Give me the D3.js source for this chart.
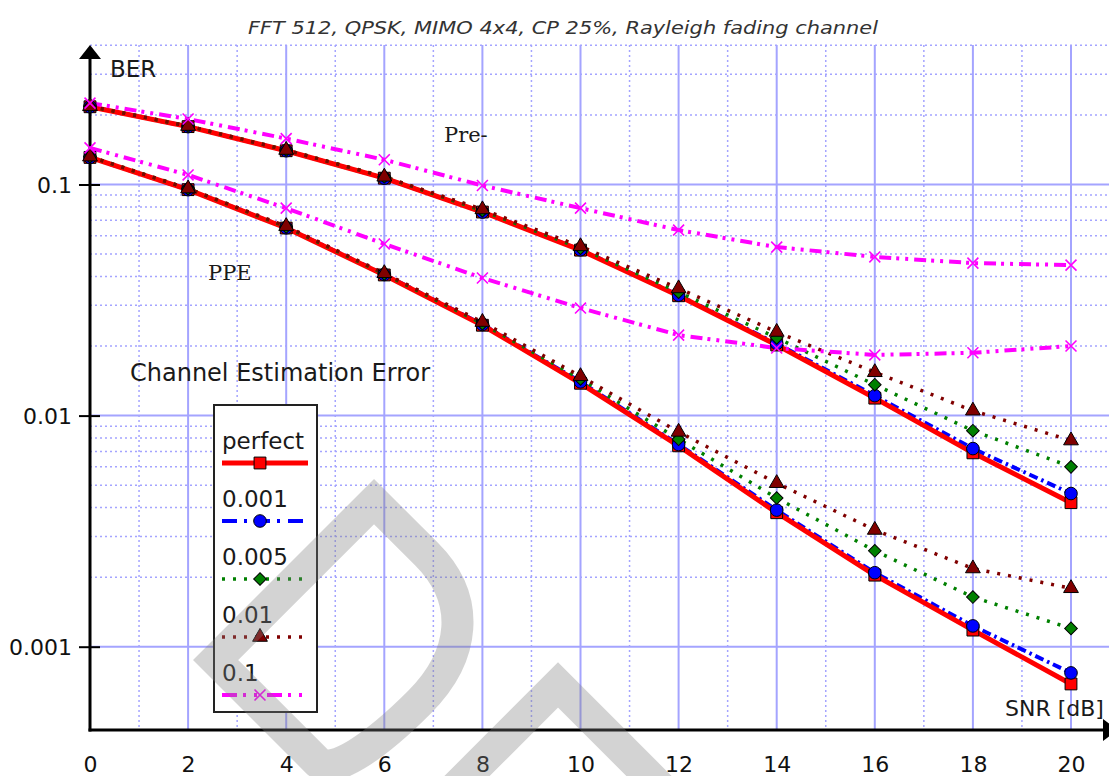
<!DOCTYPE html>
<html>
<head>
<meta charset="utf-8">
<script src="https://cdn.jsdelivr.net/npm/d3@7/dist/d3.min.js"></script>
<style>
  html, body { margin: 0; padding: 0; background: #fff; }
  svg { display: block; }
</style>
</head>
<body>
<svg id="chart" width="1109" height="776"></svg>
<script>
// SNR axis (dB), points every 2 dB
const snr = [0, 2, 4, 6, 8, 10, 12, 14, 16, 18, 20];

// Upper family of curves ("Pre-")
const prePerfect = [0.217, 0.178, 0.140, 0.1065, 0.076, 0.052, 0.0330, 0.0202, 0.0119, 0.0069, 0.0042];
const pre0001    = [0.217, 0.178, 0.140, 0.1065, 0.076, 0.0522, 0.0332, 0.0205, 0.0122, 0.0072, 0.0046];
const pre0005    = [0.218, 0.179, 0.141, 0.108, 0.077, 0.053, 0.0342, 0.0217, 0.0136, 0.0086, 0.0060];
const pre001     = [0.218, 0.179, 0.141, 0.108, 0.078, 0.054, 0.0355, 0.0230, 0.0154, 0.0105, 0.0078];
const pre01      = [0.225, 0.192, 0.158, 0.128, 0.099, 0.079, 0.0635, 0.0536, 0.0486, 0.0457, 0.0448];

// Lower family of curves ("PPE")
const ppePerfect = [0.131, 0.095, 0.0648, 0.0406, 0.0246, 0.0138, 0.0074, 0.0038, 0.00204, 0.00118, 0.00069];
const ppe0001    = [0.131, 0.095, 0.0650, 0.0408, 0.0248, 0.0140, 0.0075, 0.0039, 0.00209, 0.00123, 0.00077];
const ppe0005    = [0.132, 0.096, 0.0655, 0.0410, 0.0250, 0.0144, 0.0079, 0.0044, 0.0026, 0.00164, 0.00120];
const ppe001     = [0.132, 0.096, 0.0660, 0.0413, 0.0254, 0.0148, 0.0085, 0.0051, 0.0032, 0.00218, 0.00179];
const ppe01      = [0.144, 0.110, 0.0790, 0.0553, 0.0394, 0.0292, 0.0223, 0.0196, 0.0183, 0.0187, 0.0200];

// Legend names, axis ticks
const seriesNames = ["perfect", "0.001", "0.005", "0.01", "0.1"];
const xTicks = [0, 2, 4, 6, 8, 10, 12, 14, 16, 18, 20];
const yTicks = [0.1, 0.01, 0.001];
const yTickLabels = ["0.1", "0.01", "0.001"];

const titleText = "FFT 512, QPSK, MIMO 4x4, CP 25%, Rayleigh fading channel";

// ---------------------------------------------------------------
const W = 1109, H = 776;
const plotLeft = 90, plotTop = 45, plotBottom = 730;

const svg = d3.select("#chart");
const x = d3.scaleLinear().domain([0, 20]).range([90, 1071]);
const y = d3.scaleLog().domain([0.1, 0.001]).range([184.5, 646.7]);

const gridColor = "#a4a4ff";

// Line / marker styles per error level (rot: marker rotation in degrees)
const styles = [
  { color: "#ff0000", width: 5,   dash: null,            legendDash: null,            sym: d3.symbolSquare,   size: 140, rot: 0,  fill: "#ff0000", stroke: "#000" },
  { color: "#0000ff", width: 4,   dash: "9,4,2.5,4",     legendDash: "15,7,3,8",      sym: d3.symbolCircle,   size: 125, rot: 0,  fill: "#0000ff", stroke: "#000" },
  { color: "#008000", width: 3.5, dash: "3,8",           legendDash: "3,8",           sym: d3.symbolSquare,   size: 80,  rot: 45, fill: "#008000", stroke: "#000" },
  { color: "#800000", width: 3.5, dash: "3,8",           legendDash: "3,8",           sym: d3.symbolTriangle, size: 95,  rot: 0,  fill: "#800000", stroke: "#000" },
  { color: "#ff00ff", width: 4,   dash: "12,5,3,6,3,6",  legendDash: "15,6,3,8,3,10", sym: d3.symbolX,        size: 80,  rot: 0,  fill: "none",    stroke: "#ff00ff" }
];

const preSeries = [prePerfect, pre0001, pre0005, pre001, pre01];
const ppeSeries = [ppePerfect, ppe0001, ppe0005, ppe001, ppe01];

// ---------------- grid ----------------
const grid = svg.append("g");
const vLines = d3.range(1, 22).filter(v => x(v) <= W);
grid.selectAll("line.v").data(vLines).join("line")
  .attr("x1", d => x(d)).attr("x2", d => x(d))
  .attr("y1", plotTop).attr("y2", plotBottom)
  .attr("stroke", gridColor)
  .attr("stroke-width", d => d % 2 === 0 ? 2 : 1.5)
  .attr("stroke-dasharray", d => d % 2 === 0 ? null : "2,3");

const minorH = [];
[-3, -2, -1].forEach(e => {
  for (let k = 2; k <= 9; k++) {
    const v = k * Math.pow(10, e);
    if (y(v) >= plotTop - 1) minorH.push(v);
  }
});
grid.selectAll("line.hm").data(minorH).join("line")
  .attr("x1", plotLeft).attr("x2", W)
  .attr("y1", d => y(d)).attr("y2", d => y(d))
  .attr("stroke", gridColor).attr("stroke-width", 1.5)
  .attr("stroke-dasharray", "2,3");
grid.selectAll("line.hM").data(yTicks).join("line")
  .attr("x1", plotLeft).attr("x2", W)
  .attr("y1", d => y(d)).attr("y2", d => y(d))
  .attr("stroke", gridColor).attr("stroke-width", 2);

// ---------------- axes ----------------
const yAxis = d3.axisLeft(y).tickValues(yTicks)
  .tickFormat((d, i) => yTickLabels[i]).tickSize(11).tickPadding(6);
const gy = svg.append("g").attr("transform", `translate(${plotLeft},0)`).call(yAxis);
gy.select(".domain").remove();
gy.selectAll(".tick line").attr("x1", 10).attr("stroke", "#000").attr("stroke-width", 2);
gy.selectAll(".tick text").attr("font-family", "DejaVu Sans").attr("font-size", 22)
  .attr("fill", "#111").attr("x", -18).attr("dy", "0.36em");

const xAxis = d3.axisBottom(x).tickValues(xTicks).tickSize(0).tickPadding(0);
const gx = svg.append("g").attr("transform", `translate(0,${plotBottom})`).call(xAxis);
gx.select(".domain").remove();
gx.selectAll(".tick text").attr("font-family", "DejaVu Sans").attr("font-size", 22)
  .attr("fill", "#111").attr("y", 42).attr("dy", 0);

// axis lines with arrowheads
svg.append("line").attr("x1", plotLeft).attr("x2", plotLeft).attr("y1", plotBottom + 1.5).attr("y2", plotTop + 8)
  .attr("stroke", "#000").attr("stroke-width", 3);
svg.append("path").attr("d", `M${plotLeft},${plotTop} L${plotLeft - 11},${plotTop + 14} L${plotLeft + 11},${plotTop + 14} Z`)
  .attr("fill", "#000");
svg.append("line").attr("x1", plotLeft - 1.5).attr("x2", W).attr("y1", plotBottom).attr("y2", plotBottom)
  .attr("stroke", "#000").attr("stroke-width", 3);
svg.append("path").attr("d", `M${W + 9},${plotBottom} L${W - 6},${plotBottom - 11} L${W - 6},${plotBottom + 11} Z`)
  .attr("fill", "#000");

// ---------------- series ----------------
const line = d3.line().x(d => x(d[0])).y(d => y(d[1]));
const lineOrder = [1, 0, 2, 3, 4];
const gLines = svg.append("g").attr("fill", "none");
[preSeries, ppeSeries].forEach(group => {
  lineOrder.forEach(i => {
    const pts = snr.map((s, j) => [s, group[i][j]]);
    gLines.append("path").datum(pts)
      .attr("d", line)
      .attr("stroke", styles[i].color)
      .attr("stroke-width", styles[i].width)
      .attr("stroke-dasharray", styles[i].dash)
      .attr("stroke-linejoin", "round");
  });
});

const gMarks = svg.append("g");
[preSeries, ppeSeries].forEach(group => {
  group.forEach((vals, i) => {
    const st = styles[i];
    gMarks.selectAll(null).data(snr.map((s, j) => [s, vals[j]])).join("path")
      .attr("d", d3.symbol().type(st.sym).size(st.size))
      .attr("transform", d => `translate(${x(d[0])},${y(d[1])}) rotate(${st.rot})`)
      .attr("fill", st.fill)
      .attr("stroke", st.stroke)
      .attr("stroke-width", i === 4 ? 1.6 : 1);
  });
});

// ---------------- annotations ----------------
const ann = svg.append("g").attr("fill", "#1a1a1a");
ann.append("text").attr("x", 110).attr("y", 77).attr("font-family", "DejaVu Sans").attr("font-size", 23).text("BER");
ann.append("text").attr("x", 444).attr("y", 142).attr("font-family", "DejaVu Serif").attr("font-size", 21).text("Pre-");
ann.append("text").attr("x", 208).attr("y", 280).attr("font-family", "DejaVu Serif").attr("font-size", 21).text("PPE");
ann.append("text").attr("x", 130).attr("y", 381).attr("font-family", "DejaVu Sans").attr("font-size", 24).text("Channel Estimation Error");
ann.append("text").attr("x", 1005).attr("y", 716).attr("font-family", "DejaVu Sans").attr("font-size", 22).text("SNR [dB]");

// ---------------- legend ----------------
const lg = svg.append("g");
lg.append("rect").attr("x", 214).attr("y", 405).attr("width", 103).attr("height", 307)
  .attr("fill", "#fff").attr("stroke", "#222").attr("stroke-width", 2);
seriesNames.forEach((name, i) => {
  const st = styles[i];
  const base = 449 + i * 58;
  lg.append("text").attr("x", 222).attr("y", base)
    .attr("font-family", "DejaVu Sans").attr("font-size", 23).attr("fill", "#1a1a1a").text(name);
  const ly = base + 14;
  lg.append("line").attr("x1", 222).attr("x2", 308).attr("y1", ly).attr("y2", ly)
    .attr("stroke", st.color).attr("stroke-width", i === 0 ? 5 : st.width)
    .attr("stroke-dasharray", st.legendDash);
  lg.append("path").attr("d", d3.symbol().type(st.sym).size(st.size)())
    .attr("transform", `translate(260,${ly}) rotate(${st.rot})`)
    .attr("fill", st.fill).attr("stroke", st.stroke).attr("stroke-width", i === 4 ? 1.6 : 1);
});

// ---------------- background mark ----------------
const wm = svg.append("g").attr("fill", "none").attr("stroke", "#7f7f7f")
  .attr("stroke-opacity", 0.34).attr("stroke-width", 32).attr("stroke-linejoin", "miter");
wm.append("path")
  .attr("transform", "matrix(0.7071,-0.7071,0.7071,0.7071,193,660)")
  .attr("d", "M16,16 L240,16 L240,90 C240,155 195,190 130,190 C66,190 16,180 16,160 Z");
wm.append("path")
  .attr("d", "M390,853 L558,685 L740,867");

// ---------------- title ----------------
svg.append("text").attr("x", 563).attr("y", 34).attr("text-anchor", "middle")
  .attr("font-family", "DejaVu Sans").attr("font-style", "italic").attr("font-size", 18)
  .attr("fill", "#333").attr("textLength", 630).attr("lengthAdjust", "spacingAndGlyphs")
  .text(titleText);
</script>
</body>
</html>
